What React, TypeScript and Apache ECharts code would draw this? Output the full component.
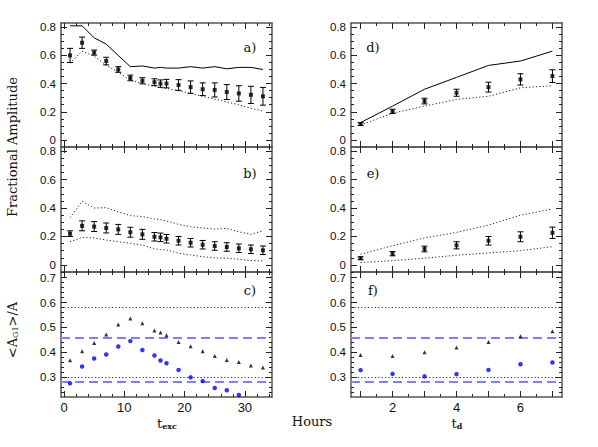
import React, { useEffect, useRef } from "react";
import * as echarts from "echarts";

// ---------- data ----------
const tExc = [1, 3, 5, 7, 9, 11, 13, 15, 16, 17, 19, 21, 23, 25, 27, 29, 31, 33];
const tD = [1, 2, 3, 4, 5, 6, 7];

// panel a
const ampA = [0.6, 0.69, 0.62, 0.56, 0.5, 0.44, 0.42, 0.41, 0.4, 0.4, 0.39, 0.375, 0.36, 0.355, 0.34, 0.33, 0.32, 0.31];
const errA = [0.05, 0.04, 0.018, 0.027, 0.02, 0.02, 0.022, 0.024, 0.026, 0.03, 0.038, 0.044, 0.045, 0.05, 0.053, 0.055, 0.061, 0.063];
const solidA = [0.81, 0.81, 0.725, 0.68, 0.6, 0.52, 0.525, 0.51, 0.515, 0.51, 0.51, 0.52, 0.51, 0.52, 0.505, 0.515, 0.515, 0.5];
const dotA = [0.545, 0.63, 0.595, 0.53, 0.48, 0.425, 0.4, 0.38, 0.37, 0.365, 0.35, 0.33, 0.31, 0.29, 0.27, 0.25, 0.225, 0.205];

// panel b
const ampB = [0.22, 0.275, 0.27, 0.26, 0.25, 0.23, 0.215, 0.198, 0.194, 0.184, 0.17, 0.156, 0.142, 0.133, 0.126, 0.117, 0.11, 0.103];
const errB = [0.02, 0.035, 0.035, 0.035, 0.035, 0.035, 0.035, 0.03, 0.03, 0.03, 0.03, 0.03, 0.03, 0.03, 0.03, 0.03, 0.03, 0.03];
const upperB = [0.333, 0.448, 0.4, 0.403, 0.373, 0.347, 0.34, 0.324, 0.318, 0.31, 0.285, 0.268, 0.26, 0.252, 0.257, 0.233, 0.215, 0.24];
const lowerB = [0.163, 0.194, 0.19, 0.175, 0.163, 0.152, 0.14, 0.112, 0.108, 0.105, 0.082, 0.07, 0.058, 0.049, 0.047, 0.04, 0.03, 0.028];

// panel c
const triC = [0.368, 0.404, 0.437, 0.472, 0.512, 0.536, 0.517, 0.488, 0.48, 0.468, 0.441, 0.424, 0.404, 0.385, 0.369, 0.361, 0.347, 0.339];
const tExcBlue = [1, 3, 5, 7, 9, 11, 13, 15, 16, 17, 19, 21, 23, 25, 27, 29];
const blueC = [0.275, 0.343, 0.375, 0.391, 0.423, 0.445, 0.409, 0.387, 0.367, 0.356, 0.329, 0.299, 0.284, 0.256, 0.247, 0.228];

// panel d
const ampD = [0.113, 0.203, 0.276, 0.335, 0.375, 0.43, 0.453];
const errD = [0.01, 0.015, 0.02, 0.025, 0.035, 0.04, 0.045];
const solidD = [0.123, 0.24, 0.36, 0.444, 0.529, 0.56, 0.63];
const dotD = [0.106, 0.19, 0.24, 0.288, 0.31, 0.37, 0.385];

// panel e
const ampE = [0.047, 0.079, 0.112, 0.138, 0.17, 0.198, 0.226];
const errE = [0.01, 0.015, 0.02, 0.025, 0.03, 0.035, 0.04];
const upperE = [0.075, 0.135, 0.19, 0.229, 0.28, 0.35, 0.394];
const lowerE = [0.016, 0.03, 0.047, 0.068, 0.084, 0.1, 0.128];

// panel f
const triF = [0.389, 0.385, 0.4, 0.419, 0.441, 0.464, 0.485];
const blueF = [0.328, 0.313, 0.303, 0.312, 0.329, 0.352, 0.359];

// reference levels in c / f
const dottedLevels = [0.58, 0.3];
const dashedLevels = [0.46, 0.28];

// tick labels
const xLabelsLeft = [0, 10, 20, 30];
const xLabelsRight = [2, 4, 6];
const yLabelsAmp = [0, 0.2, 0.4, 0.6, 0.8];
const yLabelsRatio = [0.3, 0.4, 0.5, 0.6, 0.7];

// ---------- helpers ----------
const FRAME = "#555";
const serif = "DejaVu Serif";
const sans = "Liberation Sans";

function range(a: number, b: number, step: number): number[] {
  const out: number[] = [];
  const n = Math.round((b - a) / step);
  for (let i = 0; i <= n; i++) out.push(+(a + i * step).toFixed(4));
  return out;
}
function without(arr: number[], ex: number[]) {
  return arr.filter((v) => !ex.some((e) => Math.abs(e - v) < 1e-6));
}

const pairs = (xs: number[], ys: number[]) => xs.map((x, i) => [x, ys[i]]);
const triples = (xs: number[], ys: number[], es: number[]) => xs.map((x, i) => [x, ys[i], es[i]]);

const fmt = (v: number) => String(Math.round(v * 100) / 100);

export default function App() {
  const ref = useRef<HTMLDivElement>(null);
  useEffect(() => {
    if (!ref.current) return;
    const chart = echarts.init(ref.current, null, { renderer: "svg" });

    const grids = [
      { left: 61, top: 23, width: 211, height: 124 },
      { left: 61, top: 147, width: 211, height: 125 },
      { left: 61, top: 272, width: 211, height: 125 },
      { left: 351, top: 23, width: 211, height: 124 },
      { left: 351, top: 147, width: 211, height: 125 },
      { left: 351, top: 272, width: 211, height: 125 },
    ];

    const xLeft = {
      min: -0.5, max: 34.5,
      major: [0, 10, 20, 30],
      minor: without(range(2, 34, 2), [10, 20, 30]),
      labels: xLabelsLeft,
    };
    const xRight = {
      min: 0.7, max: 7.3,
      major: range(1, 7, 1),
      minor: range(1.5, 6.5, 1),
      labels: xLabelsRight,
    };
    const yAmp = {
      min: -0.05, max: 0.83,
      major: yLabelsAmp,
      minor: without(range(0.05, 0.8, 0.05), yLabelsAmp),
      labels: yLabelsAmp,
    };
    const yRatio = {
      min: 0.22, max: 0.723,
      major: yLabelsRatio,
      minor: without(range(0.24, 0.72, 0.02), yLabelsRatio),
      labels: yLabelsRatio,
    };

    const panelAxes = [
      [xLeft, yAmp, false],
      [xLeft, yAmp, false],
      [xLeft, yRatio, true],
      [xRight, yAmp, false],
      [xRight, yAmp, false],
      [xRight, yRatio, true],
    ] as const;

    const xAxis: any[] = [];
    const yAxis: any[] = [];
    const lineStyle = { color: FRAME, width: 1.5 };
    panelAxes.forEach(([xr, yr, showX], gi) => {
      const common = { gridIndex: gi, type: "value", splitLine: { show: false } };
      (["bottom", "top"] as const).forEach((pos) => {
        xAxis.push({
          ...common, position: pos, min: xr.min, max: xr.max,
          axisLine: { show: true, onZero: false, lineStyle },
          axisTick: { show: true, inside: true, length: 6, customValues: xr.major, lineStyle: { color: "#222" } },
          axisLabel: {
            show: pos === "bottom" && showX, customValues: xr.labels, margin: 5,
            fontFamily: sans, fontSize: 13, lineHeight: 11, color: "#111", formatter: fmt,
          },
        });
        xAxis.push({
          ...common, position: pos, min: xr.min, max: xr.max,
          axisLine: { show: false, onZero: false },
          axisTick: { show: true, inside: true, length: 3, customValues: xr.minor, lineStyle: { color: "#222" } },
          axisLabel: { show: false },
        });
      });
      (["left", "right"] as const).forEach((pos) => {
        yAxis.push({
          ...common, position: pos, min: yr.min, max: yr.max,
          axisLine: { show: true, onZero: false, lineStyle },
          axisTick: { show: true, inside: true, length: 6, customValues: yr.major, lineStyle: { color: "#222" } },
          axisLabel: {
            show: pos === "left", customValues: yr.labels, margin: 5,
            fontFamily: sans, fontSize: 11.5, lineHeight: 10, color: "#111", formatter: fmt,
          },
        });
        yAxis.push({
          ...common, position: pos, min: yr.min, max: yr.max,
          axisLine: { show: false, onZero: false },
          axisTick: { show: true, inside: true, length: 3, customValues: yr.minor, lineStyle: { color: "#222" } },
          axisLabel: { show: false },
        });
      });
    });

    const ax = (gi: number) => ({ xAxisIndex: gi * 4, yAxisIndex: gi * 4 });

    const solid = (gi: number, data: number[][]) => ({
      type: "line", ...ax(gi), data, showSymbol: false, symbol: "none",
      lineStyle: { color: "#000", width: 1 }, z: 3,
    });
    const dotted = (gi: number, data: number[][]) => ({
      type: "line", ...ax(gi), data, showSymbol: false, symbol: "none",
      lineStyle: { color: "#222", width: 1, type: [1.2, 2.2] }, z: 3,
    });
    const errbar = (gi: number, data: number[][]) => ({
      type: "custom", ...ax(gi), data, encode: { x: 0, y: 1 }, z: 4,
      renderItem: (_p: any, api: any) => {
        const x = api.value(0), y = api.value(1), e = api.value(2);
        const lo = api.coord([x, y - e]);
        const hi = api.coord([x, y + e]);
        const w = 3;
        const st = { stroke: "#000", lineWidth: 1 };
        return {
          type: "group",
          children: [
            { type: "line", shape: { x1: lo[0], y1: lo[1], x2: hi[0], y2: hi[1] }, style: st },
            { type: "line", shape: { x1: lo[0] - w, y1: lo[1], x2: lo[0] + w, y2: lo[1] }, style: st },
            { type: "line", shape: { x1: hi[0] - w, y1: hi[1], x2: hi[0] + w, y2: hi[1] }, style: st },
          ],
        };
      },
    });
    const points = (gi: number, data: number[][]) => ({
      type: "scatter", ...ax(gi), data, symbol: "rect", symbolSize: 4,
      itemStyle: { color: "#000" }, z: 5,
    });
    const tri = (gi: number, data: number[][]) => ({
      type: "scatter", ...ax(gi), data, symbol: "triangle", symbolSize: 4,
      itemStyle: { color: "#000" }, z: 5,
    });
    const blue = (gi: number, data: number[][]) => ({
      type: "scatter", ...ax(gi), data, symbol: "circle", symbolSize: 4.5,
      itemStyle: { color: "#0000ff" }, z: 5,
      markLine: {
        silent: true, symbol: ["none", "none"], label: { show: false },
        data: [
          ...dottedLevels.map((v) => ({ yAxis: v, lineStyle: { color: "#333", width: 1, type: [1.2, 2.2] } })),
          ...dashedLevels.map((v) => ({ yAxis: v, lineStyle: { color: "#8080ff", width: 1.8, type: [9, 5] } })),
        ],
      },
    });

    const series: any[] = [
      solid(0, pairs(tExc, solidA)),
      dotted(0, pairs(tExc, dotA)),
      errbar(0, triples(tExc, ampA, errA)),
      points(0, pairs(tExc, ampA)),
      dotted(1, pairs(tExc, upperB)),
      dotted(1, pairs(tExc, lowerB)),
      errbar(1, triples(tExc, ampB, errB)),
      points(1, pairs(tExc, ampB)),
      tri(2, pairs(tExc, triC)),
      blue(2, pairs(tExcBlue, blueC)),
      solid(3, pairs(tD, solidD)),
      dotted(3, pairs(tD, dotD)),
      errbar(3, triples(tD, ampD, errD)),
      points(3, pairs(tD, ampD)),
      dotted(4, pairs(tD, upperE)),
      dotted(4, pairs(tD, lowerE)),
      errbar(4, triples(tD, ampE, errE)),
      points(4, pairs(tD, ampE)),
      tri(5, pairs(tD, triF)),
      blue(5, pairs(tD, blueF)),
    ];

    const txt = (x: number, y: number, text: string) => ({
      type: "text", x, y,
      style: {
        text, fill: "#111", font: `13px "${serif}"`, align: "center", verticalAlign: "middle",
      },
    });
    const subText = (x: number, y: number, text: string) => ({
      type: "text", x, y,
      style: {
        text, fill: "#111", font: `13px "${serif}"`, align: "center", verticalAlign: "middle",
        lineHeight: 12,
        rich: {
          sub: { fontFamily: serif, fontSize: 8, fontWeight: "bold", lineHeight: 12, padding: [6, 0, 0, 0] },
        },
      },
    });

    const graphic: any[] = [
      txt(250, 47, "a)"),
      txt(250, 173, "b)"),
      txt(250, 290, "c)"),
      txt(373, 47, "d)"),
      txt(373, 173, "e)"),
      txt(373, 290, "f)"),
      { ...txt(12, 147, "Fractional Amplitude"), rotation: Math.PI / 2 },
      {
        type: "text", x: 12, y: 330, rotation: Math.PI / 2,
        style: {
          text: "<A{sub|G1}>/A", fill: "#111", font: `13px "${serif}"`, align: "center", verticalAlign: "middle",
          rich: { sub: { fontFamily: serif, fontSize: 8, padding: [6, 0, 0, 0] } },
        },
      },
      subText(167, 423, "t{sub|exc}"),
      txt(312, 421, "Hours"),
      subText(457, 423, "t{sub|d}"),
    ];

    chart.setOption({
      animation: false,
      backgroundColor: "#fff",
      grid: grids,
      xAxis,
      yAxis,
      series,
      graphic,
    });
    return () => chart.dispose();
  }, []);

  return (
    <div
      ref={ref}
      style={{ position: "fixed", left: 0, top: 0, width: 598, height: 447, background: "#fff" }}
    />
  );
}
